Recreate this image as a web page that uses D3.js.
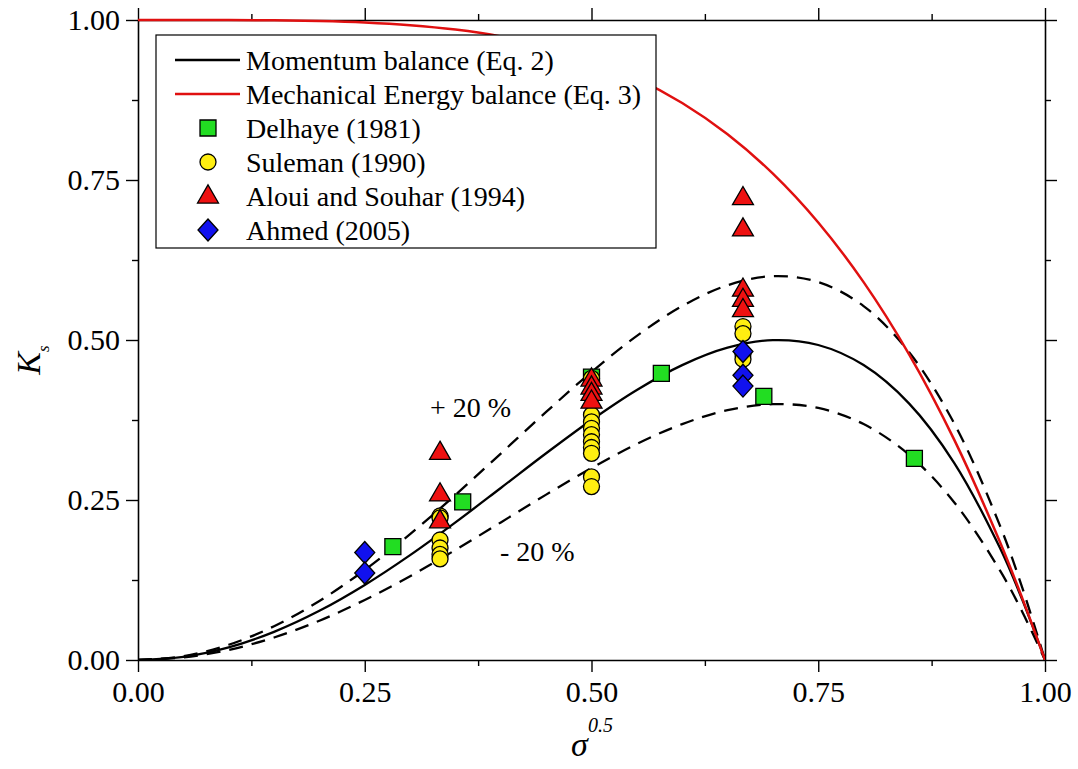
<!DOCTYPE html>
<html>
<head>
<meta charset="utf-8">
<script src="https://cdn.jsdelivr.net/npm/d3@7"></script>
<style>
  html, body { margin: 0; padding: 0; background: #fff; }
  svg { display: block; }
  text { font-family: "Liberation Serif", "Times New Roman", serif; fill: #000; }
</style>
</head>
<body>
<svg id="chart" width="1078" height="769"></svg>
<script>
// ---------- data ----------
const curveX      = [0, 0.05, 0.1, 0.15, 0.2, 0.25, 0.3, 0.35, 0.4, 0.45, 0.5, 0.55, 0.6, 0.65, 0.7, 0.75, 0.8, 0.85, 0.9, 0.95, 0.975, 1.0];
const momentumY   = [0, 0.005, 0.0198, 0.044, 0.0768, 0.1172, 0.1638, 0.215, 0.2688, 0.323, 0.375, 0.422, 0.4608, 0.488, 0.4998, 0.4922, 0.4608, 0.401, 0.3078, 0.176, 0.0939, 0];
const upperY      = [0, 0.006, 0.0238, 0.0528, 0.0922, 0.1406, 0.1966, 0.258, 0.3226, 0.3876, 0.45, 0.5064, 0.553, 0.5856, 0.5998, 0.5906, 0.553, 0.4812, 0.3694, 0.2112, 0.1127, 0];
const lowerY      = [0, 0.004, 0.0158, 0.0352, 0.0614, 0.0938, 0.131, 0.172, 0.215, 0.2584, 0.3, 0.3376, 0.3686, 0.3904, 0.3998, 0.3938, 0.3686, 0.3208, 0.2462, 0.1408, 0.0751, 0];
const energyY     = [1, 1, 0.9999, 0.9995, 0.9984, 0.9961, 0.9919, 0.985, 0.9744, 0.959, 0.9375, 0.9085, 0.8704, 0.8215, 0.7599, 0.6836, 0.5904, 0.478, 0.3439, 0.1855, 0.0963, 0];

const delhayeX = [0.281, 0.358, 0.5, 0.577, 0.69, 0.856];
const delhayeY = [0.177, 0.247, 0.442, 0.448, 0.412, 0.315];

const sulemanX = [0.333, 0.333, 0.333, 0.333, 0.333, 0.333,
                  0.5, 0.5, 0.5, 0.5, 0.5, 0.5, 0.5, 0.5, 0.5, 0.5,
                  0.667, 0.667, 0.667, 0.667];
const sulemanY = [0.225, 0.222, 0.1875, 0.175, 0.165, 0.158,
                  0.44, 0.383, 0.372, 0.362, 0.352, 0.341, 0.332, 0.323, 0.286, 0.271,
                  0.521, 0.51, 0.478, 0.47];

const alouiX = [0.333, 0.333, 0.333, 0.5, 0.5, 0.5, 0.5, 0.667, 0.667, 0.667, 0.667, 0.667];
const alouiY = [0.323, 0.258, 0.216, 0.4375, 0.425, 0.415, 0.403, 0.721, 0.672, 0.578, 0.562, 0.546];

const ahmedX = [0.25, 0.25, 0.667, 0.667, 0.667];
const ahmedY = [0.168, 0.136, 0.482, 0.445, 0.428];

const xTicks = [0, 0.25, 0.5, 0.75, 1.0];
const yTicks = [0, 0.25, 0.5, 0.75, 1.0];
const minorTicks = [0.125, 0.375, 0.625, 0.875];

const legendLabels = ["Momentum balance (Eq. 2)", "Mechanical Energy balance (Eq. 3)",
                      "Delhaye (1981)", "Suleman (1990)", "Aloui and Souhar (1994)", "Ahmed (2005)"];

// ---------- layout ----------
const svg = d3.select("#chart");
const L = 138, R = 1045, T = 20, B = 660;
const x = d3.scaleLinear().domain([0, 1]).range([L, R]);
const y = d3.scaleLinear().domain([0, 1]).range([B, T]);
const fmt = d3.format(".2f");

// ---------- axes ----------
function drawAxis(gen, horizontal, transform, labels) {
  const sc = horizontal ? x : y;
  const ticks = horizontal ? xTicks : yTicks;
  const g = svg.append("g").attr("transform", transform);
  g.call(gen(sc).tickValues(minorTicks).tickSize(6).tickFormat(""));
  g.selectAll("path").remove();
  g.selectAll(".tick line").attr("stroke-width", 1.4);
  const g2 = svg.append("g").attr("transform", transform);
  g2.call(gen(sc).tickValues(ticks).tickSize(12).tickSizeOuter(0)
      .tickPadding(horizontal ? 9 : 6).tickFormat(labels ? fmt : ""));
  g2.select("path").attr("stroke-width", 1.6);
  g2.selectAll(".tick line").attr("stroke-width", 1.4);
  g2.selectAll("text").style("font-size", "30px");
  return g2;
}
drawAxis(d3.axisBottom, true, `translate(0,${B})`, true);
drawAxis(d3.axisTop, true, `translate(0,${T})`, false);
drawAxis(d3.axisLeft, false, `translate(${L},0)`, true);
drawAxis(d3.axisRight, false, `translate(${R},0)`, false);

// ---------- curves ----------
svg.append("clipPath").attr("id", "clip").append("rect")
  .attr("x", L).attr("y", T - 2).attr("width", R - L).attr("height", B - T + 2);
const plot = svg.append("g").attr("clip-path", "url(#clip)");

function line(ys) {
  return d3.line().x((d, i) => x(curveX[i])).y(d => y(d)).curve(d3.curveCatmullRom)(ys);
}
plot.append("path").attr("d", line(upperY)).attr("fill", "none").attr("stroke", "#000")
  .attr("stroke-width", 2.3).attr("stroke-dasharray", "14,9");
plot.append("path").attr("d", line(lowerY)).attr("fill", "none").attr("stroke", "#000")
  .attr("stroke-width", 2.3).attr("stroke-dasharray", "14,9");
plot.append("path").attr("d", line(momentumY)).attr("fill", "none").attr("stroke", "#000")
  .attr("stroke-width", 2.3);
plot.append("path").attr("d", line(energyY)).attr("fill", "none").attr("stroke", "#e01010")
  .attr("stroke-width", 2.5);

// ---------- markers ----------
const sq = d3.symbol().type(d3.symbolSquare).size(256)();
const tri = d3.symbol().type(d3.symbolTriangle).size(190)();
const dia = "M0,-11L10,0L0,11L-10,0Z";

function markers(xs, ys, pathD, fill, isCircle) {
  const g = svg.append("g");
  xs.forEach((xv, i) => {
    if (isCircle) {
      g.append("circle").attr("cx", x(xv)).attr("cy", y(ys[i])).attr("r", 8)
        .attr("fill", fill).attr("stroke", "#000").attr("stroke-width", 1.3);
    } else {
      g.append("path").attr("d", pathD).attr("transform", `translate(${x(xv)},${y(ys[i])})`)
        .attr("fill", fill).attr("stroke", "#000").attr("stroke-width", 1.3);
    }
  });
}
markers(delhayeX, delhayeY, sq, "#22dd22", false);
markers(sulemanX, sulemanY, null, "#ffee11", true);
markers(alouiX, alouiY, tri, "#ee1111", false);
markers(ahmedX, ahmedY, dia, "#1111ee", false);

// ---------- annotations ----------
svg.append("text").attr("x", x(0.322)).attr("y", y(0.38)).style("font-size", "28px").text("+ 20 %");
svg.append("text").attr("x", x(0.399)).attr("y", y(0.155)).style("font-size", "28px").text("- 20 %");

// ---------- axis titles ----------
const yt = svg.append("text").attr("transform", "translate(40,360) rotate(-90)")
  .attr("text-anchor", "middle").style("font-size", "34px").style("font-style", "italic");
yt.append("tspan").text("K");
yt.append("tspan").attr("dy", 9).style("font-size", "17px").text("s");

const xt = svg.append("text").attr("x", 592).attr("y", 756)
  .attr("text-anchor", "middle").style("font-size", "34px").style("font-style", "italic");
xt.append("tspan").text("σ");
xt.append("tspan").attr("dy", -24).style("font-size", "20px").text("0.5");

// ---------- legend ----------
const lg = svg.append("g");
lg.append("rect").attr("x", 156).attr("y", 35).attr("width", 500).attr("height", 213)
  .attr("fill", "#fff").attr("stroke", "#000").attr("stroke-width", 1.2);
const rowY = [60, 94, 128, 162, 196, 230];
lg.append("line").attr("x1", 175).attr("x2", 240).attr("y1", rowY[0]).attr("y2", rowY[0])
  .attr("stroke", "#000").attr("stroke-width", 2.3);
lg.append("line").attr("x1", 175).attr("x2", 240).attr("y1", rowY[1]).attr("y2", rowY[1])
  .attr("stroke", "#e01010").attr("stroke-width", 2.5);
lg.append("path").attr("d", sq).attr("transform", `translate(208,${rowY[2]})`)
  .attr("fill", "#22dd22").attr("stroke", "#000").attr("stroke-width", 1.3);
lg.append("circle").attr("cx", 208).attr("cy", rowY[3]).attr("r", 8)
  .attr("fill", "#ffee11").attr("stroke", "#000").attr("stroke-width", 1.3);
lg.append("path").attr("d", tri).attr("transform", `translate(208,${rowY[4] + 1})`)
  .attr("fill", "#ee1111").attr("stroke", "#000").attr("stroke-width", 1.3);
lg.append("path").attr("d", dia).attr("transform", `translate(208,${rowY[5]})`)
  .attr("fill", "#1111ee").attr("stroke", "#000").attr("stroke-width", 1.3);
legendLabels.forEach((t, i) => {
  lg.append("text").attr("x", 246).attr("y", rowY[i]).attr("dy", "0.35em")
    .style("font-size", "28px").text(t);
});
</script>
</body>
</html>
